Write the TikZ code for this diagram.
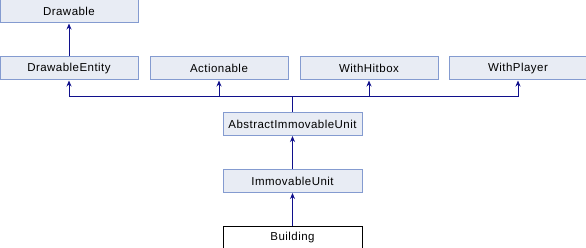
\documentclass[tikz,border=0pt]{standalone}
\usepackage{fontspec}
\setmainfont[LetterSpace=4]{Liberation Sans}
\usetikzlibrary{positioning,arrows.meta}

\definecolor{boxfill}{RGB}{232,236,244}
\definecolor{boxline}{RGB}{132,155,208}
\definecolor{inherit}{RGB}{16,16,140}

\begin{document}
\begin{tikzpicture}[x=1pt,y=1pt,node distance=33pt,font=\fontsize{11.5}{13}\selectfont,
  cls/.style={draw=boxline,fill=boxfill,line width=1pt,minimum width=138pt,minimum height=23pt,inner sep=0pt},
  leaf/.style={cls,draw=black,fill=white},
  ->,>={Stealth[length=6pt,width=5pt]},inherit line/.style={draw=inherit,line width=1pt}]
\useasboundingbox (0,0) rectangle (586,-248);
\node[cls] (Drawable) at (69,-11.5) {Drawable};
\node[cls,below=of Drawable] (DrawableEntity) {DrawableEntity};
\node[cls,right=11pt of DrawableEntity] (Actionable) {Actionable};
\node[cls,right=11pt of Actionable] (WithHitbox) {WithHitbox};
\node[cls,right=10pt of WithHitbox] (WithPlayer) {WithPlayer};
\node[cls,minimum width=139pt] (AbstractImmovableUnit) at (292.5,-124) {AbstractImmovableUnit};
\node[cls,minimum width=139pt,below=of AbstractImmovableUnit] (ImmovableUnit) {ImmovableUnit};
\node[leaf,minimum width=139pt,below=of ImmovableUnit] (Building) {Building};
\coordinate (bus) at (292.5,-97);
% inheritance arrows
\path[inherit line] (DrawableEntity) -- (Drawable);
\path[inherit line,-] (AbstractImmovableUnit) -- (bus);
\foreach \p in {DrawableEntity,Actionable,WithHitbox,WithPlayer}
  \path[inherit line] (bus) -| (\p);
\path[inherit line] (ImmovableUnit) -- (AbstractImmovableUnit);
\path[inherit line] (Building) -- (ImmovableUnit);
\end{tikzpicture}
\end{document}
